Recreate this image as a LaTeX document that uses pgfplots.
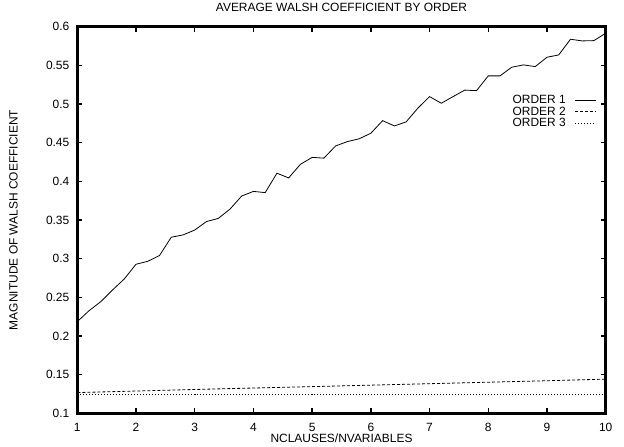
\documentclass[border=0pt]{standalone}
\usepackage{pgfplots}
\pgfplotsset{compat=1.18}
\usepackage{fontspec}
\setmainfont{Liberation Sans}
\begin{document}
\begin{tikzpicture}
\path[use as bounding box] (-77.3bp,-33.7bp) rectangle (546.7bp,413.3bp);
\begin{axis}[
  at={(0,0)}, anchor=south west,
  scale only axis,
  width=528.4bp, height=386.6bp,
  xmin=1, xmax=10, ymin=0.1, ymax=0.6,
  xtick={1,2,...,10},
  ytick={0.1,0.15,0.2,0.25,0.3,0.35,0.4,0.45,0.5,0.55,0.6},
  yticklabels={0.1,0.15,0.2,0.25,0.3,0.35,0.4,0.45,0.5,0.55,0.6},
  tick pos=both, tick align=inside,
  major tick length=5bp,
  every tick/.style={black, line width=1.5bp},
  axis line style={line width=2.6bp},
  /pgf/number format/assume math mode=true,
  tick label style={font=\fontsize{12}{13}\selectfont},
  xticklabel style={anchor=center, yshift=-14bp, inner sep=0pt},
  yticklabel style={anchor=east, xshift=-4.5bp},
  title={AVERAGE WALSH COEFFICIENT BY ORDER},
  title style={font=\fontsize{12}{13}\selectfont, at={(axis description cs:0.5,1.0336)}, anchor=center},
  xlabel={NCLAUSES/NVARIABLES},
  ylabel={MAGNITUDE OF WALSH COEFFICIENT},
  label style={font=\fontsize{12}{13}\selectfont},
  xlabel style={at={(axis description cs:0.5,-0.0636)}, anchor=center, inner sep=0pt},
  ylabel style={at={(axis description cs:-0.1207,0.5)}, anchor=center},
  legend plot pos=right,
  legend cell align=right,
  legend style={at={(0.983,0.828)}, anchor=north east, draw=none, fill=none,
    font=\fontsize{12}{12}\selectfont, row sep=-2.5bp, column sep=7bp, inner sep=0pt},
  legend image code/.code={\draw[#1] (0bp,0bp) -- (21bp,0bp);},
]
\addplot[black, line width=0.8bp] coordinates {
(1.0,0.2185) (1.2,0.2327) (1.4,0.2444) (1.6,0.2595) (1.8,0.2737)
(2.0,0.2928) (2.2,0.2966) (2.4,0.3040) (2.6,0.3277) (2.8,0.3307)
(3.0,0.3370) (3.2,0.3480) (3.4,0.3520) (3.6,0.3640) (3.8,0.3810)
(4.0,0.3870) (4.2,0.3854) (4.4,0.4105) (4.6,0.4044) (4.8,0.4220)
(5.0,0.4310) (5.2,0.4300) (5.4,0.4458) (5.6,0.4514) (5.8,0.4550)
(6.0,0.4622) (6.2,0.4785) (6.4,0.4717) (6.6,0.4768) (6.8,0.4946)
(7.0,0.5096) (7.2,0.5010) (7.4,0.5096) (7.6,0.5180) (7.8,0.5173)
(8.0,0.5364) (8.2,0.5364) (8.4,0.5476) (8.6,0.5506) (8.8,0.5484)
(9.0,0.5605) (9.2,0.5635) (9.4,0.5838) (9.6,0.5816) (9.8,0.5820)
(10.0,0.5916)
};
\addlegendentry{ORDER 1}
\addplot[black, line width=0.8bp, dash pattern=on 3bp off 2bp] coordinates {
(1,0.1268) (2,0.1288) (3,0.1308) (4,0.1327) (5,0.1345)
(6,0.1364) (7,0.1383) (8,0.1402) (9,0.1421) (10,0.1442)
};
\addlegendentry{ORDER 2}
\addplot[black, line width=0.8bp, dash pattern=on 1bp off 2bp] coordinates {
(1,0.1248) (2,0.1248) (3,0.1248) (4,0.1248) (5,0.1248)
(6,0.1248) (7,0.1248) (8,0.1248) (9,0.1248) (10,0.1248)
};
\addlegendentry{ORDER 3}
\end{axis}
\end{tikzpicture}
\end{document}
